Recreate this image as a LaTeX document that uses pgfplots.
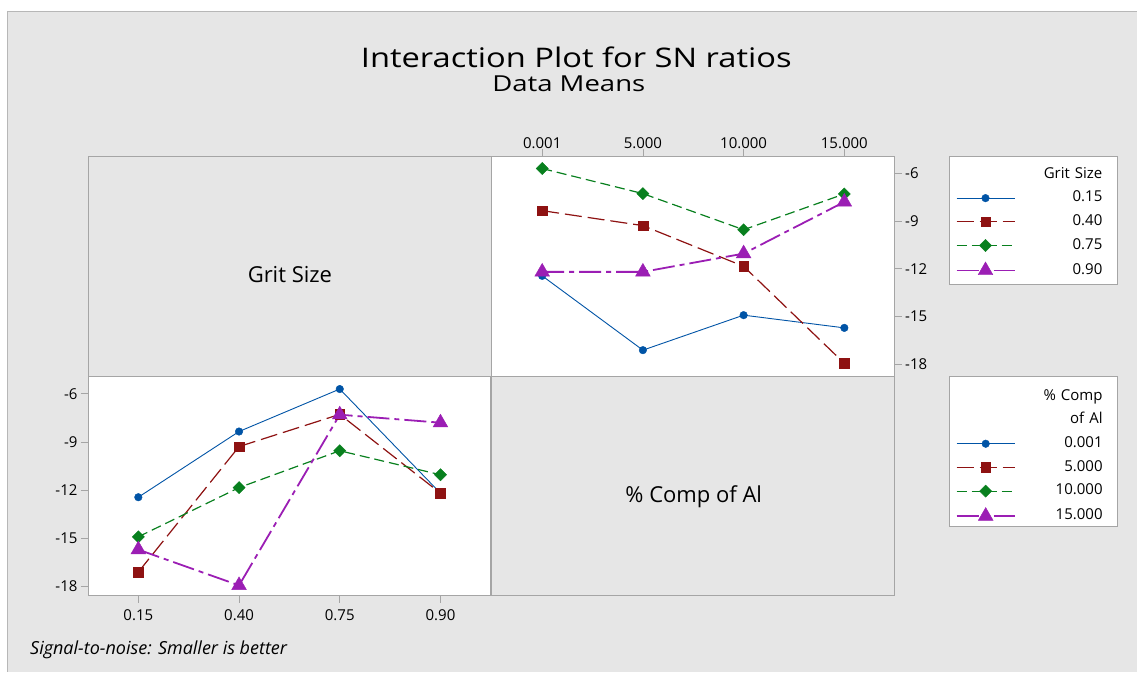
\documentclass[border=0pt]{standalone}
\usepackage{fontspec}
\setmainfont{Open Sans}
\usepackage{graphicx}
\usepackage{pgfplots}
\usepackage{pgfplotstable}
\pgfplotsset{compat=1.18}
\definecolor{bg}{RGB}{230,230,230}
\definecolor{frame}{RGB}{165,165,165}
\definecolor{cblue}{RGB}{0,84,166}
\definecolor{cred}{RGB}{142,18,18}
\definecolor{cgreen}{RGB}{8,128,30}
\definecolor{cpurple}{RGB}{155,30,180}
\newcommand{\fs}[1]{\fontsize{#1}{#1}\selectfont}

% SN ratio means: rows = % Comp of Al level, columns = Grit Size level
\pgfplotstableread{
pos g015 g040 g075 g090
1 -12.45 -8.35 -5.70 -12.20
2 -17.12 -9.29 -7.28 -12.20
3 -14.92 -11.85 -9.55 -11.05
4 -15.72 -17.95 -7.30 -7.80
}\byComp
% rows = Grit Size level, columns = % Comp of Al level
\pgfplotstableread{
pos c0001 c5 c10 c15
1 -12.45 -17.12 -14.92 -15.72
2 -8.35 -9.29 -11.85 -17.95
3 -5.70 -7.28 -9.55 -7.30
4 -12.20 -12.20 -11.05 -7.80
}\byGrit

\pgfplotsset{
 s1/.style={cblue, line width=0.9pt, solid, mark=*, mark size=3.8pt, mark options={solid, line width=0.4pt}},
 s2/.style={cred, line width=1.2pt, dash pattern=on 17pt off 6pt, mark=square*, mark size=4.8pt, mark options={solid, line width=0.4pt}},
 s3/.style={cgreen, line width=1.2pt, dash pattern=on 10pt off 5pt, mark=square*, mark size=4.3pt, mark options={solid, rotate=45, line width=0.4pt}},
 s4/.style={cpurple, line width=1.8pt, dash pattern=on 22pt off 5pt on 5pt off 5pt, mark=triangle*, mark size=8.5pt, mark options={solid, line width=0.4pt}},
 panel/.style={
   scale only axis, width=403pt,
   axis background/.style={fill=white},
   axis line style={frame, line width=0.8pt},
   xmin=0.5, xmax=4.5, xtick={1,2,3,4},
   ytick={-18,-15,-12,-9,-6},
   yticklabels={-18,-15,-12,-9,-6},
   tick align=outside, major tick length=7pt,
   tick style={frame, line width=0.8pt},
   tick label style={font=\fs{15}, text=black},
   xticklabel style={yshift=-3pt},
   legend cell align=right,
   legend image code/.code={\draw[mark repeat=2,mark phase=2] plot coordinates {(0pt,0pt) (29pt,0pt) (58pt,0pt)};},
   legend style={draw=none, fill=none, font=\fs{15}, inner sep=0pt, row sep=9.2pt, column sep=0pt,
     nodes={inner sep=0pt, text height=11pt, text depth=3.5pt, text width=87pt, align=right}},
 },
}

\begin{document}
\begin{tikzpicture}[x=1pt,y=1pt]
\fill[white] (0,0) rectangle (1137,672);
\fill[bg] (7,0) rectangle (1137,661);
\draw[frame!80, line width=0.8pt] (7,0) -- (7,661) -- (1137,661);
% empty panels
\draw[frame, line width=0.8pt, fill=bg] (88,295) rectangle (492,516);
\draw[frame, line width=0.8pt, fill=bg] (492,76) rectangle (895,295);
% legend boxes
\draw[frame, line width=0.8pt, fill=white] (950,387) rectangle (1118,516);
\draw[frame, line width=0.8pt, fill=white] (950,145) rectangle (1118,295);

\begin{axis}[panel, at={(492pt,295pt)}, anchor=south west, height=221pt,
  ymin=-18.8, ymax=-4.91,
  xtick pos=right, xticklabel pos=right, ytick pos=right, yticklabel pos=right,
  xticklabels={0.001,5.000,10.000,15.000},
  legend style={at={(1.516,0.950)}, anchor=north east}]
\addlegendimage{empty legend}\addlegendentry{Grit Size}
\addplot[s1] table[x=pos,y=g015]{\byComp}; \addlegendentry{0.15}
\addplot[s2] table[x=pos,y=g040]{\byComp}; \addlegendentry{0.40}
\addplot[s3] table[x=pos,y=g075]{\byComp}; \addlegendentry{0.75}
\addplot[s4] table[x=pos,y=g090]{\byComp}; \addlegendentry{0.90}
\end{axis}

\begin{axis}[panel, at={(88pt,76pt)}, anchor=south west, height=219pt,
  ymin=-18.6, ymax=-4.94,
  xtick pos=left, xticklabel pos=left, ytick pos=left, yticklabel pos=left,
  xticklabels={0.15,0.40,0.75,0.90},
  legend style={at={(2.519,0.945)}, anchor=north east}]
\addlegendimage{empty legend}\addlegendentry{\% Comp}
\addlegendimage{empty legend}\addlegendentry{of Al}
\addplot[s1] table[x=pos,y=c0001]{\byGrit}; \addlegendentry{0.001}
\addplot[s2] table[x=pos,y=c5]{\byGrit}; \addlegendentry{5.000}
\addplot[s3] table[x=pos,y=c10]{\byGrit}; \addlegendentry{10.000}
\addplot[s4] table[x=pos,y=c15]{\byGrit}; \addlegendentry{15.000}
\end{axis}

\node[anchor=base] at (290,389) {\fs{22}Grit Size};
\node[anchor=base] at (694,169) {\fs{22}\% Comp of Al};
\node[anchor=base] at (576.5,604) {\scalebox{1.21}[1]{\fs{27}Interaction Plot for SN ratios}};
\node[anchor=base] at (569,580) {\scalebox{1.25}[1]{\fs{22}Data Means}};
\node[anchor=base west, inner sep=0pt] at (30,17) {\fs{18}\itshape Signal-to-noise: Smaller is better};
\end{tikzpicture}
\end{document}
